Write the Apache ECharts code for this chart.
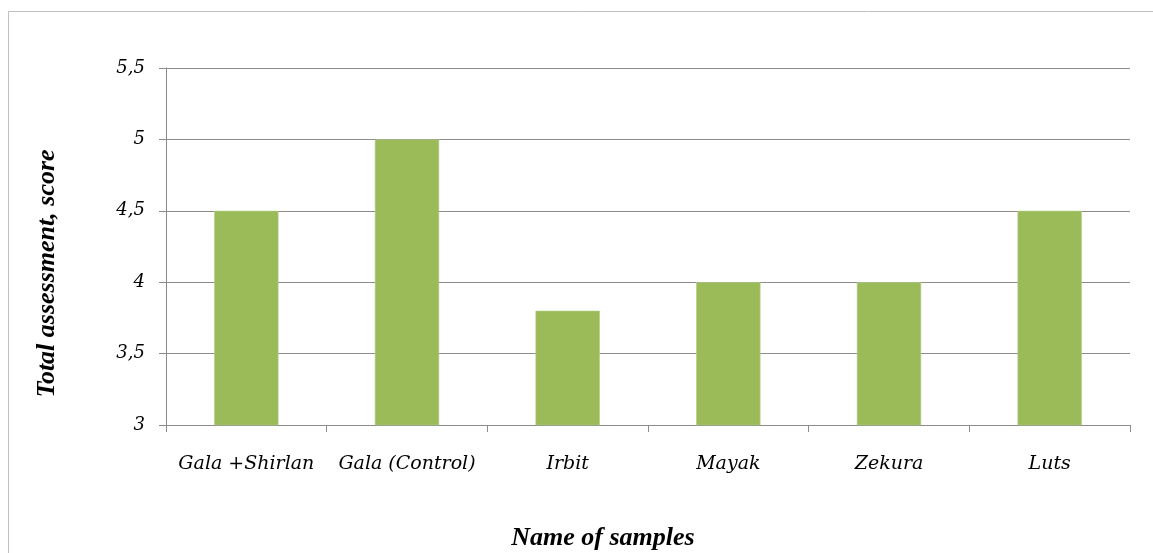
<!DOCTYPE html>
<html>
  <head>
    <meta charset="UTF-8">
    <title>Total assessment</title>
    <script src="https://cdn.jsdelivr.net/npm/echarts@6/dist/echarts.min.js"></script>
    <style>
      html, body { margin: 0; padding: 0; background: #ffffff; }
      #main { width: 1153px; height: 553px; }
    </style>
  </head>
  <body>
    <div id="main"></div>
    <script>
      // data
      var categories = ['Gala +Shirlan', 'Gala (Control)', 'Irbit', 'Mayak', 'Zekura', 'Luts'];
      var scores = [4.5, 5, 3.8, 4, 4, 4.5];
      var yTicks = [3, 3.5, 4, 4.5, 5, 5.5];

      var serif = '"DejaVu Serif", "Liberation Serif", serif';
      var titleFont = '"Liberation Serif", "DejaVu Serif", serif';

      var myChart = echarts.init(document.getElementById('main'));

      var option = {
        backgroundColor: '#ffffff',
        animation: false,
        grid: { left: 166, right: 23, top: 68, bottom: 128, outerBoundsMode: 'none' },
        graphic: [
          {
            // thin frame round the chart
            type: 'rect',
            shape: { x: 8.5, y: 11.5, width: 1160, height: 560 },
            style: { fill: 'none', stroke: '#c0c0c0', lineWidth: 1 },
            silent: true
          }
        ],
        xAxis: {
          type: 'category',
          data: categories,
          name: 'Name of samples',
          nameLocation: 'middle',
          nameGap: 100,
          nameTextStyle: {
            fontFamily: titleFont, fontStyle: 'italic', fontWeight: 'bold',
            fontSize: 26, color: '#000', padding: [0, 90, 0, 0]
          },
          axisLine: { lineStyle: { color: '#8c8c8c', width: 1 } },
          axisTick: { show: true, length: 7, alignWithLabel: false, lineStyle: { color: '#8c8c8c' } },
          axisLabel: {
            fontFamily: serif, fontStyle: 'italic', fontSize: 19,
            color: '#000', margin: 30, interval: 0
          }
        },
        yAxis: {
          type: 'value',
          min: 3,
          max: 5.5,
          interval: 0.5,
          name: 'Total assessment, score',
          nameLocation: 'middle',
          nameGap: 106,
          nameRotate: 90,
          nameTextStyle: {
            fontFamily: titleFont, fontStyle: 'italic', fontWeight: 'bold',
            fontSize: 26, color: '#000', padding: [0, 54, 0, 0]
          },
          axisLine: { show: true, lineStyle: { color: '#8c8c8c', width: 1 } },
          axisTick: { show: true, length: 7, lineStyle: { color: '#8c8c8c' } },
          splitLine: { lineStyle: { color: '#8c8c8c', width: 1 } },
          axisLabel: {
            fontFamily: serif, fontStyle: 'italic', fontSize: 18,
            color: '#000', margin: 21,
            formatter: function (v) {
              var i = yTicks.indexOf(v);
              return String(i >= 0 ? yTicks[i] : v).replace('.', ',');
            }
          }
        },
        series: [
          {
            type: 'bar',
            data: scores,
            barWidth: '40%',
            itemStyle: { color: '#9bbb59', borderColor: '#b4cf84', borderWidth: 0.6 }
          }
        ]
      };

      myChart.setOption(option);
    </script>
  </body>
</html>
